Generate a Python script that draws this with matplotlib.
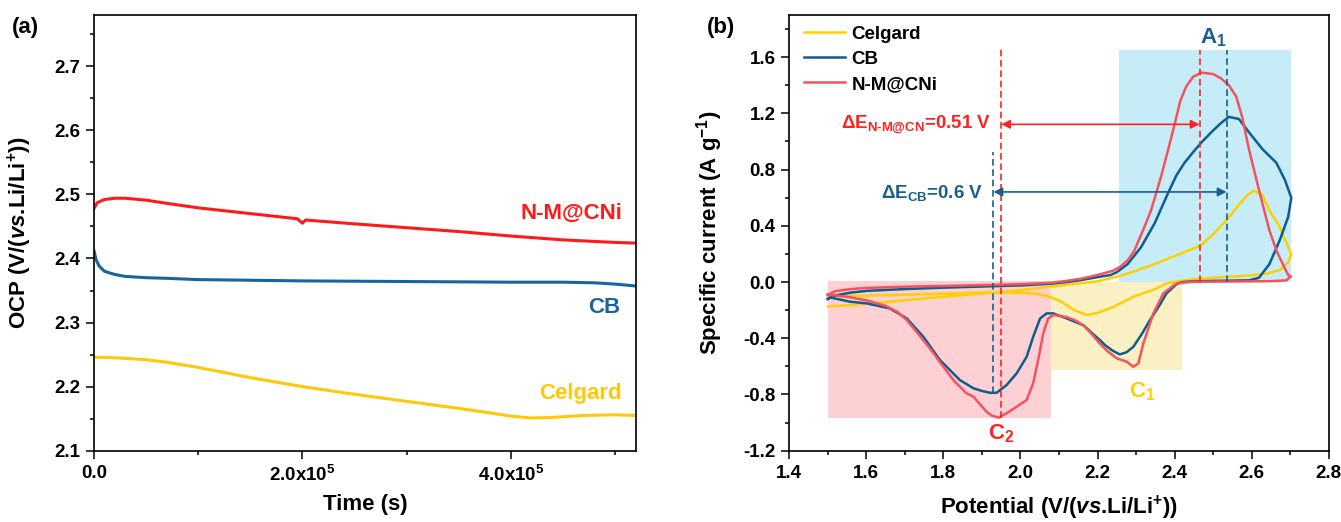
import matplotlib
matplotlib.use("Agg")
import matplotlib.pyplot as plt
from matplotlib.ticker import MultipleLocator, FormatStrFormatter

plt.rcParams["font.family"] = ["Liberation Sans", "DejaVu Sans"]
plt.rcParams["font.weight"] = "bold"
plt.rcParams["axes.labelweight"] = "bold"
plt.rcParams["mathtext.fontset"] = "custom"
plt.rcParams["mathtext.rm"] = "Liberation Sans:bold"
plt.rcParams["mathtext.bf"] = "Liberation Sans:bold"
plt.rcParams["mathtext.it"] = "Liberation Sans:bold:italic"
plt.rcParams["mathtext.default"] = "rm"

# (a) open circuit potential vs time
t_nm = [0, 3e3, 1e4, 2e4, 3e4, 5e4, 7e4, 1e5, 1.5e5, 1.95e5, 2.0e5, 2.03e5,
        2.5e5, 3e5, 3.5e5, 4e5, 4.5e5, 5e5, 5.2e5]
v_nm = [2.478, 2.487, 2.492, 2.494, 2.494, 2.491, 2.486, 2.479, 2.470, 2.462,
        2.455, 2.460, 2.454, 2.448, 2.442, 2.435, 2.429, 2.425, 2.424]

t_cb = [0, 2e3, 5e3, 1e4, 2e4, 3e4, 5e4, 7e4, 1e5, 1.5e5, 2e5, 3e5, 4e5,
        4.5e5, 4.8e5, 5e5, 5.2e5]
v_cb = [2.412, 2.398, 2.388, 2.380, 2.375, 2.372, 2.370, 2.369, 2.367, 2.366,
        2.365, 2.364, 2.363, 2.363, 2.362, 2.360, 2.357]

t_cel = [0, 2e4, 5e4, 7e4, 1e5, 1.5e5, 2e5, 2.5e5, 3e5, 3.5e5, 3.8e5, 4e5,
         4.2e5, 4.4e5, 4.7e5, 5e5, 5.2e5]
v_cel = [2.246, 2.245, 2.242, 2.238, 2.230, 2.214, 2.200, 2.188, 2.177, 2.166,
         2.159, 2.154, 2.151, 2.152, 2.155, 2.156, 2.155]

# (b) CV loops: anodic sweep 1.5 -> 2.7 V, then cathodic sweep back to 1.5 V
cv_nm = [(1.50, -0.09), (1.52, -0.065), (1.56, -0.05), (1.60, -0.042), (1.70, -0.033),
         (1.80, -0.028), (1.90, -0.022), (2.00, -0.015), (2.08, -0.005), (2.12, 0.008),
         (2.16, 0.025), (2.20, 0.05), (2.24, 0.08), (2.26, 0.11), (2.28, 0.16),
         (2.295, 0.22), (2.32, 0.38), (2.339, 0.51), (2.365, 0.75), (2.385, 0.96),
         (2.40, 1.12), (2.415, 1.29), (2.43, 1.39), (2.448, 1.46), (2.47, 1.49),
         (2.50, 1.48), (2.52, 1.45), (2.541, 1.40), (2.56, 1.32), (2.575, 1.18),
         (2.593, 0.946), (2.619, 0.656), (2.646, 0.369), (2.665, 0.22), (2.681, 0.127),
         (2.695, 0.05), (2.702, 0.04), (2.69, 0.012), (2.65, 0.006), (2.55, 0.004),
         (2.45, 0.002), (2.42, -0.005), (2.405, -0.01), (2.39, -0.04), (2.371, -0.081),
         (2.345, -0.223), (2.319, -0.437), (2.306, -0.579), (2.293, -0.603), (2.276, -0.567),
         (2.25, -0.543), (2.225, -0.49), (2.206, -0.437), (2.185, -0.37), (2.163, -0.307),
         (2.14, -0.27), (2.12, -0.25), (2.10, -0.24), (2.085, -0.235), (2.072, -0.259),
         (2.059, -0.366), (2.046, -0.555), (2.033, -0.72), (2.016, -0.84), (1.99, -0.887),
         (1.964, -0.934), (1.943, -0.965), (1.925, -0.95), (1.912, -0.923), (1.895, -0.87),
         (1.878, -0.816), (1.86, -0.792), (1.826, -0.698), (1.791, -0.57), (1.77, -0.49),
         (1.748, -0.414), (1.705, -0.27), (1.679, -0.21), (1.65, -0.17), (1.60, -0.13),
         (1.55, -0.105), (1.50, -0.09)]

cv_cb = [(1.50, -0.12), (1.52, -0.095), (1.56, -0.075), (1.60, -0.063), (1.70, -0.05),
         (1.80, -0.04), (1.90, -0.032), (2.00, -0.024), (2.08, -0.012), (2.12, 0.0),
         (2.16, 0.015), (2.20, 0.035), (2.234, 0.05), (2.25, 0.07), (2.278, 0.127),
         (2.313, 0.248), (2.348, 0.416), (2.383, 0.632), (2.405, 0.76), (2.426, 0.849),
         (2.45, 0.93), (2.47, 0.994), (2.497, 1.07), (2.52, 1.13), (2.541, 1.175),
         (2.567, 1.16), (2.593, 1.066), (2.628, 0.946), (2.664, 0.849), (2.686, 0.729),
         (2.703, 0.60), (2.695, 0.464), (2.673, 0.297), (2.646, 0.127), (2.619, 0.03),
         (2.593, 0.012), (2.55, 0.01), (2.50, 0.008), (2.45, 0.005), (2.42, 0.0),
         (2.405, -0.015), (2.379, -0.081), (2.36, -0.17), (2.336, -0.271), (2.315, -0.37),
         (2.293, -0.461), (2.275, -0.50), (2.258, -0.515), (2.24, -0.49), (2.22, -0.45),
         (2.206, -0.413), (2.163, -0.307), (2.12, -0.259), (2.085, -0.223), (2.068, -0.223),
         (2.051, -0.259), (2.033, -0.39), (2.016, -0.532), (1.99, -0.65), (1.964, -0.733),
         (1.938, -0.788), (1.921, -0.788), (1.90, -0.775), (1.878, -0.756), (1.843, -0.698),
         (1.791, -0.555), (1.748, -0.39), (1.705, -0.259), (1.661, -0.188), (1.601, -0.152),
         (1.558, -0.14), (1.506, -0.11), (1.50, -0.12)]

cv_cel = [(1.50, -0.175), (1.60, -0.155), (1.70, -0.13), (1.80, -0.105), (1.90, -0.082),
          (2.00, -0.058), (2.08, -0.032), (2.15, -0.01), (2.20, 0.005), (2.26, 0.045),
          (2.30, 0.08), (2.35, 0.13), (2.40, 0.185), (2.45, 0.24), (2.47, 0.265),
          (2.50, 0.34), (2.541, 0.46), (2.57, 0.56), (2.59, 0.62), (2.606, 0.65),
          (2.628, 0.62), (2.646, 0.512), (2.673, 0.391), (2.695, 0.248), (2.703, 0.20),
          (2.695, 0.14), (2.673, 0.085), (2.64, 0.06), (2.60, 0.048), (2.50, 0.03),
          (2.45, 0.02), (2.42, 0.01), (2.379, -0.01), (2.35, -0.05), (2.293, -0.105),
          (2.241, -0.177), (2.20, -0.22), (2.172, -0.235), (2.14, -0.20), (2.103, -0.135),
          (2.07, -0.10), (2.033, -0.081), (1.947, -0.072), (1.85, -0.08), (1.774, -0.085),
          (1.70, -0.09), (1.60, -0.097), (1.50, -0.10)]

# peak positions used for the potential-gap markers
peak_c2_nm, peak_a1_nm = 1.95, 2.465
peak_c2_cb, peak_a1_cb = 1.93, 2.535

# shaded peak regions: (x0, x1, y0, y1)
reg_c2 = (1.50, 2.08, -0.965, 0.01)
reg_c1 = (2.08, 2.42, -0.625, 0.0)
reg_a1 = (2.255, 2.703, 0.0, 1.65)

RED_A, BLUE_A, YEL_A = "#FF1A1A", "#1665A0", "#FFC80A"
RED_B, BLUE_B, YEL_B = "#F2535E", "#0F5C8E", "#FFD000"
RED_T, BLUE_T = "#FF2222", "#1A5E8E"

fig = plt.figure(figsize=(13.41, 5.22), dpi=100)
ax1 = fig.add_axes([0.0701, 0.1366, 0.4042, 0.8347])
ax2 = fig.add_axes([0.5886, 0.1366, 0.4022, 0.8347])

for ax in (ax1, ax2):
    for s in ax.spines.values():
        s.set_linewidth(1.2)
    ax.tick_params(which="both", direction="out", top=False, right=False,
                   labelsize=13.5, width=1.1, pad=4)
    ax.tick_params(which="major", length=6)
    ax.tick_params(which="minor", length=3)

# ---- panel (a)
ax1.plot(t_nm, v_nm, color=RED_A, lw=2.2)
ax1.plot(t_cb, v_cb, color=BLUE_A, lw=2.2)
ax1.plot(t_cel, v_cel, color=YEL_A, lw=2.2)
ax1.set_xlim(0, 5.2e5)
ax1.set_ylim(2.1, 2.78)
ax1.set_xticks([0, 2e5, 4e5])
ax1.set_xticklabels(["0.0", r"2.0x10$^{5}$", r"4.0x10$^{5}$"])
ax1.xaxis.set_minor_locator(MultipleLocator(1e5))
ax1.yaxis.set_major_locator(MultipleLocator(0.1))
ax1.yaxis.set_minor_locator(MultipleLocator(0.05))
ax1.yaxis.set_major_formatter(FormatStrFormatter("%.1f"))
ax1.set_xlabel("Time (s)", fontsize=16)
ax1.set_ylabel(r"OCP (V/($\mathit{vs}$.Li/Li$^{+}$))", fontsize=16)
ax1.xaxis.set_label_coords(0.5, -0.1)
ax1.yaxis.set_label_coords(-0.11, 0.5)
ax1.text(5.07e5, 2.471, "N-M@CNi", color=RED_A, fontsize=16, ha="right", va="center")
ax1.text(5.05e5, 2.323, "CB", color=BLUE_A, fontsize=16, ha="right", va="center")
ax1.text(5.06e5, 2.190, "Celgard", color=YEL_A, fontsize=16, ha="right", va="center")

# ---- panel (b)
for (x0, x1, y0, y1), c in ((reg_c2, "#FDD0D3"), (reg_c1, "#FBF0C3"), (reg_a1, "#C6ECF7")):
    ax2.fill_between([x0, x1], y0, y1, color=c, lw=0, zorder=0)

for data, c, lab in ((cv_cel, YEL_B, "Celgard"), (cv_cb, BLUE_B, "CB"), (cv_nm, RED_B, "N-M@CNi")):
    xs = [p[0] for p in data]
    ys = [p[1] for p in data]
    ax2.plot(xs, ys, color=c, lw=1.8, label=lab, zorder=3)

dash = (0, (4, 2.2))
ax2.plot([peak_c2_nm, peak_c2_nm], [-0.965, 1.66], color=RED_T, lw=1.2, ls=dash, zorder=4)
ax2.plot([peak_a1_nm, peak_a1_nm], [0.0, 1.65], color=RED_T, lw=1.2, ls=dash, zorder=4)
ax2.plot([peak_c2_cb, peak_c2_cb], [-0.79, 0.925], color=BLUE_T, lw=1.2, ls=dash, zorder=4)
ax2.plot([peak_a1_cb, peak_a1_cb], [0.0, 1.65], color=BLUE_T, lw=1.2, ls=dash, zorder=4)

ax2.annotate("", xy=(peak_a1_nm, 1.122), xytext=(peak_c2_nm, 1.122),
             arrowprops=dict(arrowstyle="<|-|>", color=RED_T, lw=1.2,
                             mutation_scale=13, shrinkA=0, shrinkB=0), zorder=5)
ax2.annotate("", xy=(peak_a1_cb, 0.641), xytext=(peak_c2_cb, 0.641),
             arrowprops=dict(arrowstyle="<|-|>", color=BLUE_T, lw=1.2,
                             mutation_scale=13, shrinkA=0, shrinkB=0), zorder=5)

ax2.text(1.925, 1.09, r"ΔE$_{\text{N-M@CN}}$=0.51 V", color=RED_T, fontsize=13.5,
         ha="right", va="baseline")
ax2.text(1.903, 0.60, r"ΔE$_{\text{CB}}$=0.6 V", color=BLUE_T, fontsize=13.5,
         ha="right", va="baseline")
ax2.text(2.50, 1.70, r"A$_{1}$", color=BLUE_T, fontsize=16, ha="center", va="baseline")
ax2.text(2.316, -0.82, r"C$_{1}$", color=YEL_B, fontsize=16, ha="center", va="baseline")
ax2.text(1.951, -1.12, r"C$_{2}$", color=RED_T, fontsize=16, ha="center", va="baseline")

ax2.set_xlim(1.4, 2.8)
ax2.set_ylim(-1.2, 1.9)
ax2.xaxis.set_major_locator(MultipleLocator(0.2))
ax2.xaxis.set_minor_locator(MultipleLocator(0.1))
ax2.yaxis.set_minor_locator(MultipleLocator(0.2))
ax2.xaxis.set_major_formatter(FormatStrFormatter("%.1f"))
ax2.yaxis.set_major_formatter(FormatStrFormatter("%.1f"))
ax2.set_yticks([-1.2, -0.8, -0.4, 0.0, 0.4, 0.8, 1.2, 1.6])
ax2.set_xlabel(r"Potential (V/($\mathit{vs}$.Li/Li$^{+}$))", fontsize=16)
ax2.set_ylabel(r"Specific current (A g$^{-1}$)", fontsize=16)
ax2.xaxis.set_label_coords(0.5, -0.098)
ax2.yaxis.set_label_coords(-0.12, 0.5)

ax2.legend(loc="upper left", bbox_to_anchor=(0.027, 0.975), frameon=False,
           fontsize=13.5, handlelength=2.2, handletextpad=0.35, labelspacing=0.42,
           borderpad=0, borderaxespad=0)

fig.text(0.009, 0.948, "(a)", fontsize=16, va="center")
fig.text(0.527, 0.948, "(b)", fontsize=16, va="center")

fig.savefig("out.png", dpi=100)
